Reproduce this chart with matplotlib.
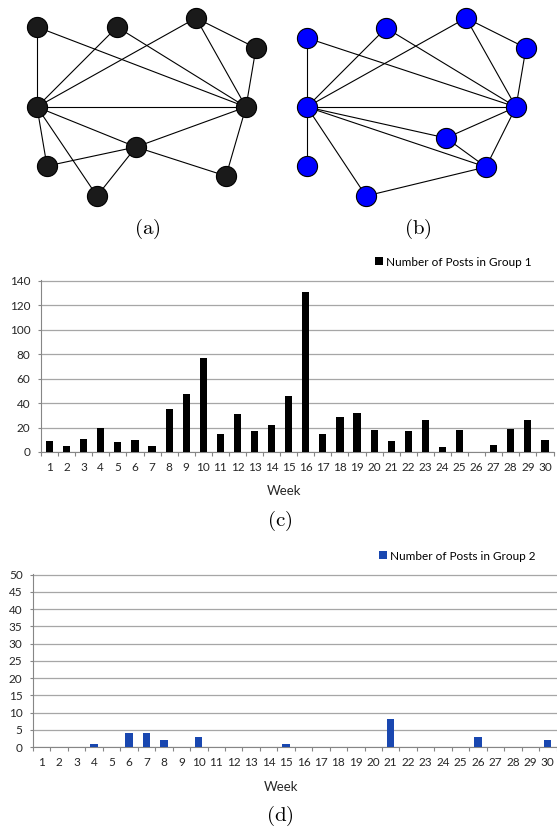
import matplotlib.pyplot as plt
import numpy as np

plt.rcParams['mathtext.fontset'] = 'cm'

# weekly post counts
weeks = list(range(1, 31))
group1 = [9, 5, 11, 20, 8, 10, 5, 35, 47, 77, 15, 31, 17, 22, 46,
          131, 15, 29, 32, 18, 9, 17, 26, 4, 18, 0, 6, 19, 26, 10]
group2 = [0, 0, 0, 1, 0, 4, 4, 2, 0, 3, 0, 0, 0, 0, 1,
          0, 0, 0, 0, 0, 8, 0, 0, 0, 0, 3, 0, 0, 0, 2]

# network layouts (pixel positions of the drawing)
nodes_a_x = [37, 117, 196, 256, 37, 246, 136, 47, 97, 226]
nodes_a_y = [27, 27, 18, 48, 107, 107, 147, 166, 196, 176]
edges_a = [(0, 4), (0, 5), (1, 4), (1, 5), (2, 4), (2, 5), (2, 3), (3, 5), (4, 5),
           (4, 6), (4, 7), (4, 8), (6, 7), (6, 8), (6, 5), (6, 9), (5, 9)]

nodes_b_x = [307, 386, 466, 526, 307, 516, 446, 486, 307, 366]
nodes_b_y = [38, 28, 18, 48, 107, 107, 138, 167, 166, 196]
edges_b = [(0, 4), (0, 5), (1, 4), (1, 5), (2, 4), (2, 5), (2, 3), (3, 5), (4, 5),
           (4, 6), (4, 7), (4, 8), (4, 9), (6, 5), (6, 7), (7, 5), (9, 7)]

W, H = 557, 831
fig = plt.figure(figsize=(W / 100, H / 100), dpi=100)


def draw_graph(ax, xs, ys, edges, fill):
    for i, j in edges:
        ax.plot([xs[i], xs[j]], [ys[i], ys[j]], color='black', lw=0.8, zorder=1)
    ax.plot(xs, ys, 'o', ms=14.5, mfc=fill, mec='black', mew=0.8, zorder=2)


gax = fig.add_axes([0, 1 - 250 / H, 1, 250 / H])
gax.set_xlim(0, W)
gax.set_ylim(250, 0)
gax.axis('off')
draw_graph(gax, nodes_a_x, nodes_a_y, edges_a, '#1a1a1a')
draw_graph(gax, nodes_b_x, nodes_b_y, edges_b, '#0000ff')


def bar_chart(left, right, top, bottom, values, color, ymax, step, label, leg_x, leg_y):
    ax = fig.add_axes([left / W, 1 - bottom / H, (right - left) / W, (bottom - top) / H])
    ax.bar(weeks, values, width=0.42, color=color, label=label, zorder=3)
    ax.set_xlim(0.5, 30.5)
    ax.set_ylim(0, ymax * 1.004)
    ax.set_yticks(np.arange(0, ymax + 1, step))
    ax.set_xticks(weeks)
    ax.set_xticks(np.arange(0.5, 31, 1), minor=True)
    ax.grid(axis='y', color='#a6a6a6', lw=0.9, zorder=0)
    ax.tick_params(axis='x', which='major', length=0, pad=7.5, labelsize=8.5)
    ax.tick_params(axis='x', which='minor', length=3, color='#868686', width=0.8)
    ax.tick_params(axis='y', length=2, color='#868686', width=0.8, pad=5.5, labelsize=8.5)
    for s in ['top', 'right']:
        ax.spines[s].set_visible(False)
    for s in ['left', 'bottom']:
        ax.spines[s].set_color('#868686')
        ax.spines[s].set_linewidth(0.8)
    for t in ax.get_xticklabels() + ax.get_yticklabels():
        t.set_fontfamily('Lato')
        t.set_color('#262626')
    ax.legend(loc='center left', bbox_to_anchor=(leg_x / W, 1 - leg_y / H),
              bbox_transform=fig.transFigure, frameon=False, borderpad=0,
              handlelength=0.65, handleheight=0.65, handletextpad=0.25,
              prop={'family': 'Lato', 'size': 8.5})
    return ax


bar_chart(41, 553.5, 280, 452, group1, 'black', 140, 20,
          'Number of Posts in Group 1', 369, 262)
bar_chart(33, 556.5, 574, 747, group2, '#1947b0', 50, 5,
          'Number of Posts in Group 2', 373, 556)

fig.text(284 / W, 1 - 491 / H, 'Week', ha='center', va='center',
         family='Lato', fontsize=9.5, color='#262626')
fig.text(281 / W, 1 - 787 / H, 'Week', ha='center', va='center',
         family='Lato', fontsize=9.5, color='#262626')

for x, y, s in [(147, 229, 'a'), (418, 229, 'b'), (280, 521, 'c'), (280, 816, 'd')]:
    fig.text(x / W, 1 - y / H, r'$\mathrm{(' + s + ')}$', ha='center', va='center', fontsize=15)

fig.savefig('out.png', dpi=100)
